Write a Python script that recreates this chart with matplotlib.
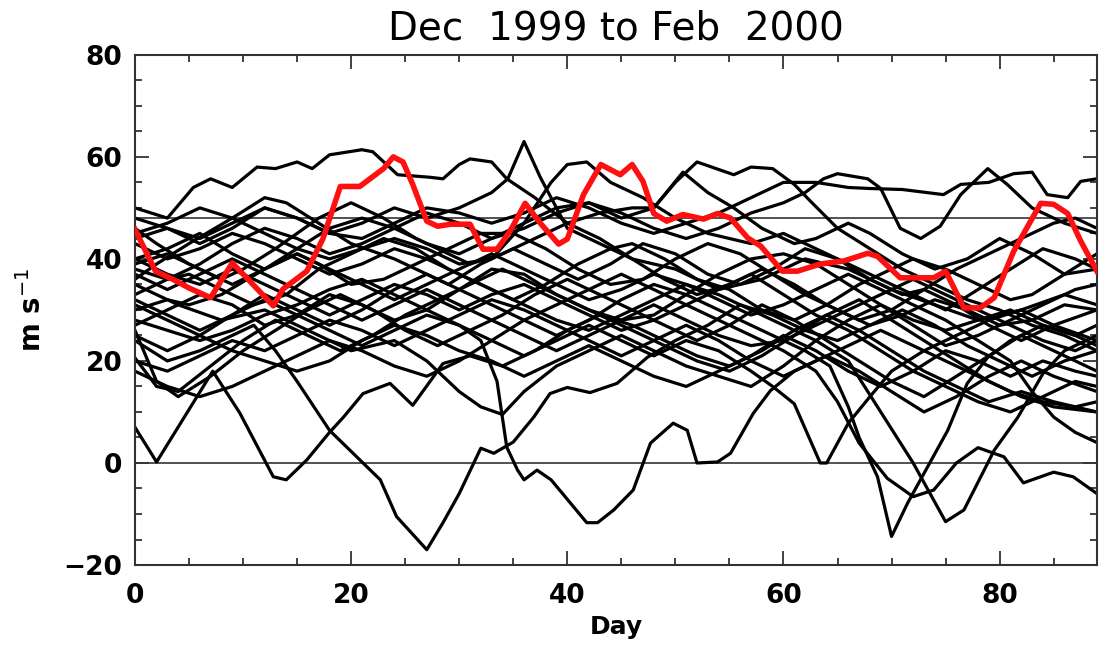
import numpy as np
import matplotlib
matplotlib.use("Agg")
import matplotlib.pyplot as plt
from matplotlib.ticker import MultipleLocator

# =============================
#  Data (day, wind speed m/s)
# =============================
red_days = [0, 1.9, 3.5, 5, 7, 9, 10.6, 12.8, 13.7, 15.9, 17.4, 19, 20.8, 23, 23.9, 24.8,
            25.7, 27, 28, 29.2, 31, 32.2, 33.5, 34.7, 36.1, 37.5, 39.2, 40, 41.5, 43.1,
            44.9, 46, 47, 48, 49.2, 50.7, 52.6, 53.9, 55.1, 56.7, 57.9, 59.9, 61.3, 63.4,
            65.6, 67.8, 68.7, 70.8, 73.9, 75, 76.7, 78.2, 79.5, 81.3, 83.8, 85, 86.3, 87.5, 89]
red_vals = [45.8, 37.6, 36, 34.3, 32.4, 39.2, 35.7, 30.8, 34.1, 37.6, 44, 54.2, 54.2, 57.7, 60, 59,
            54.6, 47.4, 46.4, 46.8, 46.8, 41.9, 41.9, 45.4, 50.9, 47, 42.9, 43.9, 52.6, 58.5,
            56.5, 58.5, 55.2, 48.9, 47.4, 48.7, 47.8, 48.9, 48, 44.1, 42.5, 37.6, 37.6, 39,
            39.6, 41.1, 40.5, 36.3, 36.3, 37.6, 30.4, 30.4, 32.4, 41.5, 50.9, 50.7, 48.9, 43.5, 37.6]

b01 = [(0, 50), (3, 48), (5.4, 54), (7, 55.7), (9, 54), (11.3, 58), (13, 57.7), (15, 59), (16.4, 57.7),
       (18, 60.4), (21, 61.4), (22, 61), (24.3, 56.5), (27.3, 56), (28.5, 55.7), (30, 58.5), (31, 59.6),
       (33, 59), (34.4, 55.7), (37, 52), (40, 47), (43, 44), (46, 40), (50, 38), (54, 34), (58, 36),
       (62, 40), (66, 38), (70, 34), (74, 31), (78, 28), (82, 30), (86, 33), (89, 31)]
b02 = [(0, 44), (3, 46), (6, 43), (9, 46), (12, 50), (15, 48), (18, 45), (21, 47), (24, 50), (27, 48),
       (30, 50), (33, 53), (34.5, 55.7), (36, 63), (37.5, 56), (40, 46), (43, 43), (46, 40), (49, 36),
       (52, 33), (55, 35), (58, 38), (61, 35), (64, 31), (67, 28), (70, 30), (73, 34), (76, 31),
       (79, 27), (82, 24), (85, 27), (89, 30)]
b03 = [(0, 40), (3, 42), (6, 45), (9, 41), (12, 38), (15, 42), (18, 46), (21, 48), (24, 46), (27, 43),
       (30, 41), (33, 44), (36, 47), (39, 50), (42, 51), (45, 48), (48, 50), (50, 55), (52, 59),
       (55.4, 56.5), (57, 58), (59, 57.7), (61, 54.6), (62.5, 51.3), (65, 46), (68, 42), (71, 38),
       (74, 35), (77, 32), (80, 30), (83, 27), (86, 25), (89, 22)]
b04 = [(0, 38), (3, 36), (6, 39), (9, 43), (12, 46), (15, 44), (18, 41), (21, 43), (24, 46), (27, 49),
       (30, 47), (33, 44), (36, 46), (39, 49), (42, 51), (45, 49), (48, 46), (51, 44), (54, 46), (57, 49),
       (60, 51), (62, 53), (63.7, 55.7), (65, 56.7), (67.8, 55.7), (69, 53.8), (70.8, 46), (72.7, 44),
       (74.5, 46.4), (76.4, 52.6), (78.9, 57.7), (80.7, 54.6), (83, 50), (86, 47), (89, 45)]
b05 = [(0, 48), (3, 46), (6, 44), (9, 47), (12, 50), (15, 48), (18, 45), (21, 44), (24, 47), (27, 50),
       (30, 49), (33, 47), (36, 49), (39, 52), (42, 50), (45, 47), (48, 45), (51, 47), (54, 49), (57, 52),
       (60, 55), (63, 55), (66, 54), (68, 53.8), (71, 53.6), (74.8, 52.6), (76.4, 54.6), (79, 55),
       (81.3, 56.7), (83, 57), (84.4, 52.6), (86.3, 52), (87.5, 55.2), (89, 55.7)]
b06 = [(0, 46), (2, 43), (5, 39), (8, 36), (10, 38), (13, 42), (17, 48), (20, 51), (23, 48), (26, 44),
       (29, 41), (31, 39), (34, 41), (37, 44), (40, 47), (43, 49), (46, 50), (48, 50), (50.7, 57),
       (53, 53), (55.4, 50), (58, 46), (61, 43), (63, 44), (66, 47), (68, 45), (71, 41), (74, 38),
       (77, 40), (80, 44), (83, 41), (86, 37), (89, 38)]
b07 = [(0, 36), (2, 39), (5, 43), (9, 48), (12, 52), (14, 51), (17, 47), (20, 43), (24, 40), (27, 37),
       (29, 35), (32, 39), (35, 42), (38, 39), (41, 36), (44, 39), (47, 43), (50, 41), (53, 37), (56, 35),
       (59, 38), (62, 42), (65, 40), (68, 36), (71, 33), (73, 34), (76, 38), (79, 41), (82, 44), (85, 47),
       (87, 48), (89, 46)]
b08 = [(0, 33), (3, 36), (5, 37), (8, 34), (11, 31), (14, 33), (17, 38), (20, 41), (23, 44), (26, 42),
       (29, 38), (32, 35), (35, 32), (38, 35), (41, 39), (44, 42), (46, 43), (49, 40), (52, 36), (55, 34),
       (58, 30), (61, 28), (64, 31), (67, 35), (70, 38), (72, 40), (75, 38), (78, 35), (81, 32), (83, 33),
       (86, 37), (89, 41)]
b09 = [(0, 30), (3, 32), (5, 31), (8, 33), (12, 38), (15, 41), (17, 39), (20, 35), (23, 36), (26, 39),
       (29, 42), (32, 45), (35, 45), (38, 42), (41, 38), (44, 35), (47, 36), (50, 40), (53, 43), (56, 41),
       (59, 37), (62, 33), (65, 30), (68, 27), (71, 29), (74, 32), (77, 30), (80, 27), (83, 28), (86, 31),
       (89, 30)]
b10 = [(0, 27), (2, 29), (6, 33), (9, 31), (12, 27), (15, 29), (18, 33), (21, 31), (24, 28), (27, 30),
       (30, 34), (33, 38), (36, 37), (39, 33), (42, 30), (45, 28), (48, 29), (51, 33), (54, 37), (57, 40),
       (60, 41), (63, 39), (66, 35), (69, 31), (72, 28), (75, 26), (78, 28), (81, 30), (84, 27), (87, 25),
       (89, 27)]
b11 = [(0, 25), (3, 22), (6, 25), (9, 29), (12, 33), (15, 30), (18, 27), (21, 30), (24, 34), (27, 37),
       (30, 34), (33, 31), (36, 28), (39, 25), (42, 28), (45, 32), (48, 35), (51, 33), (54, 30), (57, 27),
       (60, 24), (63, 27), (66, 30), (69, 33), (72, 36), (75, 33), (78, 30), (81, 27), (84, 24), (87, 22),
       (89, 24)]
b12 = [(0, 20), (3, 18), (6, 21), (9, 24), (12, 22), (15, 25), (18, 28), (21, 26), (24, 23), (27, 26),
       (30, 29), (33, 32), (36, 30), (39, 27), (42, 24), (45, 21), (48, 24), (51, 27), (54, 24), (57, 20),
       (60, 17), (63, 20), (66, 23), (69, 26), (72, 23), (75, 20), (78, 17), (81, 14), (84, 12), (87, 11),
       (89, 12)]
b13 = [(0, 18), (3, 15), (6, 13), (9, 15), (12, 18), (15, 21), (18, 24), (21, 22), (24, 19), (27, 17),
       (30, 20), (33, 24), (36, 28), (39, 31), (42, 34), (45, 37), (48, 34), (51, 31), (54, 34), (57, 37),
       (60, 33), (63, 29), (66, 26), (69, 22), (72, 18), (75, 15), (78, 12), (81, 10), (84, 13), (87, 16),
       (89, 15)]
b14 = [(0, 26), (2, 16), (4, 13), (7, 17), (10, 22), (13, 26), (16, 30), (19, 33), (22, 30), (25, 26),
       (28, 23), (31, 26), (34, 29), (37, 33), (40, 36), (43, 33), (46, 30), (49, 27), (52, 24), (55, 27),
       (58, 31), (61, 28), (64, 24), (67, 20), (70, 16), (73, 13), (76, 17), (79, 21), (82, 25), (85, 22),
       (89, 18)]
b15 = [(0, 20.6), (2, 15), (4, 14), (7, 19), (10, 24), (13, 28), (16, 25), (19, 22), (22, 25), (25, 29),
       (28, 32), (31, 35), (34, 38), (37, 35), (40, 32), (43, 29), (46, 26), (49, 23), (52, 20), (55, 18),
       (58, 21), (61, 25), (64, 29), (67, 32), (70, 28), (73, 24), (76, 20), (79, 16), (82, 13), (85, 11),
       (89, 10)]
b16 = [(0, 43), (3, 40), (6, 42), (9, 45), (12, 43), (15, 40), (18, 37), (21, 39), (24, 42), (27, 40),
       (30, 37), (33, 34), (36, 31), (39, 28), (42, 26), (45, 29), (48, 32), (51, 35), (54, 33), (57, 30),
       (60, 27), (63, 24), (66, 20), (69, 10), (72, 0), (75, -11.5), (76.7, -9.2), (79.5, 2.5),
       (81.7, 9), (84, 17.5), (86, 22), (89, 25)]
b17 = [(0, 37), (3, 34), (6, 37), (9, 40), (12, 37), (15, 34), (18, 31), (21, 28), (24, 31), (27, 34),
       (30, 31), (33, 28), (36, 25), (39, 22), (42, 25), (45, 28), (48, 31), (51, 28), (54, 25), (57, 23),
       (60, 24), (62, 22), (64.3, 19), (66, 11), (67, 5), (68.7, -2.7), (70, -14.4), (71.5, -7.8),
       (75.2, 6.4), (77, 15.6), (78.9, 20.7), (81, 24), (84, 27), (87, 25), (89, 23)]
b18 = [(0, 32), (3, 29), (6, 26), (9, 29), (12, 32), (15, 29), (18, 26), (21, 23), (24, 26), (27, 29),
       (30, 27), (33, 24), (36, 21), (39, 24), (42, 27), (45, 24), (48, 21), (51, 24), (54, 22), (57, 18),
       (59, 15), (61, 11.6), (63.4, 0), (64, 0), (66, 7.8), (68, 13), (70, 18), (73, 22), (76, 25),
       (79, 28), (82, 30), (85, 27), (89, 24)]
b19 = [(0, 40), (3, 37), (6, 35), (9, 38), (12, 35), (15, 32), (18, 29), (21, 32), (24, 35), (27, 33),
       (30, 30), (33, 33), (36, 35), (39, 32), (42, 29), (45, 26), (48, 28), (51, 31), (54, 28), (57, 25),
       (60, 22), (63, 18), (65, 12), (67, 3.9), (69.6, -3), (72, -6.6), (73.9, -5.3), (76, 0), (78, 3),
       (80.4, 1.2), (82.2, -3.9), (85, -1.8), (86.8, -2.7), (89, -6)]
b20 = [(0, 7), (2, 0.2), (7.2, 18), (9.7, 9.8), (12.8, -2.7), (14, -3.3), (15.9, 0.6), (18, 6),
       (19.3, 9), (21.1, 13.6), (23.6, 15.6), (25.7, 11.3), (28.5, 19.5), (31, 21), (34, 19), (37, 22),
       (40, 26), (43, 29), (46, 27), (49, 24), (52, 21), (55, 19), (58, 22), (61, 26), (64, 29), (67, 26),
       (70, 22), (73, 18), (76, 15), (79, 12), (82, 14), (85, 12), (89, 10)]
b21 = [(0, 24), (3, 20), (6, 22), (9, 25), (11, 27), (13, 22), (15, 16), (18, 6.4), (22.7, -3.3),
       (24.2, -10.5), (27, -17), (28.5, -11.7), (30, -6), (32, 2.9), (33.2, 1.9), (35, 4.1), (36.9, 9),
       (38.4, 13.6), (40, 14.8), (42.1, 13.8), (44.6, 15.6), (47.4, 20.7), (50, 24), (53, 27), (56, 31),
       (59, 29), (62, 26), (65, 24), (68, 27), (71, 30), (74, 27), (77, 23), (80, 20), (83, 17), (86, 20),
       (89, 22)]
b22 = [(0, 28), (3, 26), (6, 24), (9, 26), (12, 29), (15, 31), (18, 34), (21, 36), (24, 33), (27, 30),
       (30, 27), (32, 24), (33.5, 16), (34.4, 3.1), (35.4, -1.4), (36, -3.3), (37.2, -1.4), (38.5, -3.3),
       (41.8, -11.7), (42.8, -11.7), (44.3, -9.2), (46.1, -5.3), (47.7, 3.9), (49.8, 7.8), (51.1, 6.4),
       (52, 0), (53.9, 0.2), (55.1, 1.9), (57.2, 9.7), (58.8, 14.2), (61, 18), (64, 21), (67, 18),
       (70, 14), (73, 10), (76, 13), (79, 17), (82, 20), (85, 17), (89, 14)]
b23 = [(0, 39), (3, 41), (6, 38), (9, 35), (12, 38), (15, 41), (18, 38), (21, 35), (24, 32), (27, 35),
       (30, 38), (33, 41), (36, 38), (39, 35), (42, 32), (45, 34), (48, 37), (51, 35), (54, 32), (57, 29),
       (60, 31), (63, 34), (66, 37), (69, 34), (72, 31), (75, 28), (78, 24), (81, 20), (83, 14), (85, 9),
       (87, 6), (89, 4)]
b24 = [(0, 45), (3, 47), (6, 50), (9, 48), (12, 45), (15, 42), (18, 40), (21, 42), (24, 44), (27, 42),
       (30, 39), (33, 40), (36, 47), (38.5, 55), (40, 58.5), (41.8, 59), (44, 55), (47, 52), (50, 48),
       (53, 45), (57, 43), (60, 45), (63, 42), (66, 39), (69, 36), (72, 33), (75, 30), (78, 34), (81, 38),
       (84, 42), (87, 40), (89, 38)]
b25 = [(0, 35), (4, 31), (8, 28), (12, 30), (16, 26), (20, 22), (24, 24), (27, 20), (30, 14), (32, 11),
       (34, 9.5), (36, 14), (39, 19), (42, 22), (45, 25), (48, 22), (51, 19), (54, 17), (57, 15), (60, 19),
       (63, 24), (66, 28), (69, 31), (72, 27), (75, 23), (78, 25), (81, 28), (84, 31), (87, 34), (89, 35)]
b26 = [(0, 31), (3, 28), (6, 25), (9, 22), (12, 20), (15, 18), (18, 20), (21, 24), (24, 27), (27, 25),
       (30, 22), (33, 20), (36, 17), (39, 20), (42, 23), (45, 20), (48, 17), (51, 15), (54, 18), (57, 21),
       (60, 25), (63, 22), (66, 18), (69, 15), (72, 18), (75, 22), (78, 20), (81, 17), (84, 20), (87, 18),
       (89, 17)]

black_lines = [b01, b02, b03, b04, b05, b06, b07, b08, b09, b10, b11, b12, b13,
               b14, b15, b16, b17, b18, b19, b20, b21, b22, b23, b24, b25, b26]
ref_levels = [0, 48]

# =============================
#  Plot
# =============================
plt.rcParams['font.family'] = ['DejaVu Sans']

fig = plt.figure(figsize=(10.99, 6.45), dpi=100)
ax = fig.add_axes([0.1228, 0.124, 0.8753, 0.791])

for lvl in ref_levels:
    ax.axhline(lvl, color="#333333", lw=1.2, zorder=1)

for line in black_lines:
    d, v = zip(*line)
    ax.plot(d, v, color="black", lw=2.3, zorder=2)

ax.plot(red_days, red_vals, color="#ff1010", lw=4, zorder=3)

ax.set_xlim(0, 89)
ax.set_ylim(-20, 80)
ax.xaxis.set_major_locator(MultipleLocator(20))
ax.xaxis.set_minor_locator(MultipleLocator(5))
ax.yaxis.set_major_locator(MultipleLocator(20))
ax.yaxis.set_minor_locator(MultipleLocator(5))
ax.tick_params(which="both", direction="in", top=True, right=True, width=1.3, color="#333333")
ax.tick_params(which="major", length=10, labelsize=19)
ax.tick_params(axis="x", which="major", pad=13)
ax.tick_params(axis="y", which="major", pad=9)
ax.tick_params(which="minor", length=5)
for lab in ax.get_xticklabels() + ax.get_yticklabels():
    lab.set_fontweight("bold")
for sp in ax.spines.values():
    sp.set_linewidth(1.5)
    sp.set_color("#333333")

ax.set_xlabel("Day", fontsize=18, fontweight="bold", labelpad=4)
ax.set_ylabel("m s$^{-1}$", fontsize=20, fontweight="bold", labelpad=12)
ax.set_title("Dec  1999 to Feb  2000", fontsize=28, pad=11)

fig.savefig("out.png", dpi=100)
